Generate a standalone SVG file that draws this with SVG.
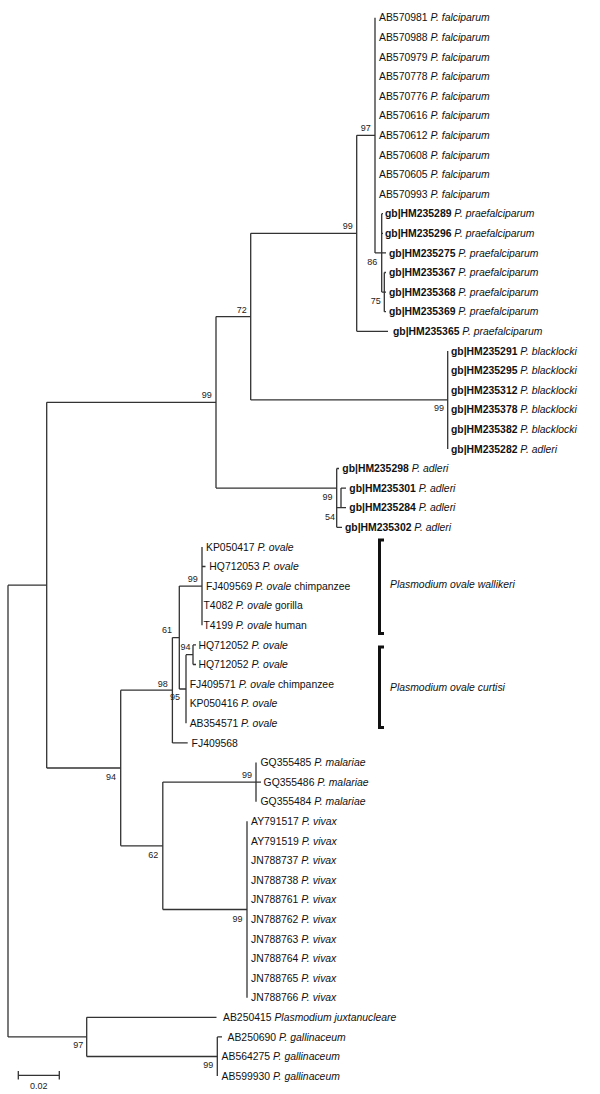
<svg xmlns="http://www.w3.org/2000/svg" width="600" height="1094" viewBox="0 0 600 1094">
<style>
text{font-family:"Liberation Sans",Arial,sans-serif;fill:#111}
.t{font-size:10.4px}
.g{font-weight:bold}
.i{font-style:italic;font-weight:normal}
.n{font-weight:normal;font-style:normal}
.b{font-size:9px;text-anchor:middle;fill:#222}
.cl{font-size:10.4px;font-style:italic}
.e{fill:none;stroke:#333;stroke-width:1.3}
.br{fill:none;stroke:#111;stroke-width:3}
</style>
<rect width="600" height="1094" fill="#fff"/>
<g id="connectors" class="e">
<path d="M8,585.2V1036.9 M8,585.2H46.7 M8,1036.9H86.7"/>
<path d="M46.7,402.35V768 M46.7,402.35H216 M46.7,768H120.7"/>
<path d="M216,316.6V488.1 M216,316.6H250.7 M216,488.1H336.7"/>
<path d="M250.7,233.3V399.9 M250.7,233.3H356.7 M250.7,399.9H447.7"/>
<path d="M356.7,135.3V331.3 M356.7,135.3H375 M356.7,331.3H388"/>
<path d="M375,17.7V252.9 M375,252.9H386"/>
<path d="M381.7,213.7V292.1 M381.7,213.7H383 M381.7,233.3H383 M381.7,292.1H384.3"/>
<path d="M384.3,272.5V311.7 M384.3,272.5H386 M384.3,292.1H386 M384.3,311.7H386"/>
<path d="M447.7,350.9V448.9"/>
<path d="M336.7,468.5V527.3 M336.7,468.5H339 M336.7,527.3H342 M341,488.1V507.7 M341,488.1H346 M336.7,507.7H346"/>
<path d="M120.7,690.2V845.8 M120.7,690.2H172.4 M120.7,845.8H162.8"/>
<path d="M172.4,637.55V742.9 M172.4,637.55H179.3 M172.4,742.9H187.7"/>
<path d="M179.3,586.1V689 M179.3,586.1H202 M179.3,689H186"/>
<path d="M202,546.9V625.3 M202,566.5H205.5"/>
<path d="M186,654.7V723.3 M186,654.7H193"/>
<path d="M193,644.9V664.5 M193,644.9H196 M193,664.5H196"/>
<path d="M162.8,782.1V909.5 M162.8,782.1H256 M162.8,909.5H247"/>
<path d="M256,762.5V801.7 M256,782.1H261"/>
<path d="M247,821.3V997.7"/>
<path d="M86.7,1017.3V1056.5 M86.7,1017.3H216.5 M86.7,1056.5H217.3"/>
<path d="M217.3,1036.9V1076.1 M217.3,1036.9H222"/>
</g>
<g id="bootstrap">
<text class="b" x="365.7" y="131.2">97</text>
<text class="b" x="347.7" y="229.2">99</text>
<text class="b" x="372.3" y="264.9">86</text>
<text class="b" x="375.7" y="304.2">75</text>
<text class="b" x="241.7" y="313.2">72</text>
<text class="b" x="439" y="411.2">99</text>
<text class="b" x="206.7" y="398.2">99</text>
<text class="b" x="327.5" y="500.2">99</text>
<text class="b" x="330" y="520.2">54</text>
<text class="b" x="192.7" y="582.2">99</text>
<text class="b" x="167" y="633.2">61</text>
<text class="b" x="185.5" y="650.2">94</text>
<text class="b" x="175" y="700.2">95</text>
<text class="b" x="162.8" y="686.5">98</text>
<text class="b" x="111" y="779.9">94</text>
<text class="b" x="153.3" y="857.5">62</text>
<text class="b" x="247" y="778.2">99</text>
<text class="b" x="237.5" y="922.2">99</text>
<text class="b" x="78.3" y="1048.2">97</text>
<text class="b" x="208.3" y="1068.2">99</text>
</g>
<g id="tips">
<text class="t" x="379" y="21.4">AB570981 <tspan class="i">P. falciparum</tspan></text>
<text class="t" x="379" y="41">AB570988 <tspan class="i">P. falciparum</tspan></text>
<text class="t" x="379" y="60.6">AB570979 <tspan class="i">P. falciparum</tspan></text>
<text class="t" x="379" y="80.2">AB570778 <tspan class="i">P. falciparum</tspan></text>
<text class="t" x="379" y="99.8">AB570776 <tspan class="i">P. falciparum</tspan></text>
<text class="t" x="379" y="119.4">AB570616 <tspan class="i">P. falciparum</tspan></text>
<text class="t" x="379" y="139">AB570612 <tspan class="i">P. falciparum</tspan></text>
<text class="t" x="379" y="158.6">AB570608 <tspan class="i">P. falciparum</tspan></text>
<text class="t" x="379" y="178.2">AB570605 <tspan class="i">P. falciparum</tspan></text>
<text class="t" x="379" y="197.8">AB570993 <tspan class="i">P. falciparum</tspan></text>
<text class="t g" x="385" y="217.4">gb|HM235289 <tspan class="i">P. praefalciparum</tspan></text>
<text class="t g" x="385" y="237">gb|HM235296 <tspan class="i">P. praefalciparum</tspan></text>
<text class="t g" x="389" y="256.6">gb|HM235275 <tspan class="i">P. praefalciparum</tspan></text>
<text class="t g" x="389" y="276.2">gb|HM235367 <tspan class="i">P. praefalciparum</tspan></text>
<text class="t g" x="389" y="295.8">gb|HM235368 <tspan class="i">P. praefalciparum</tspan></text>
<text class="t g" x="389" y="315.4">gb|HM235369 <tspan class="i">P. praefalciparum</tspan></text>
<text class="t g" x="393" y="335">gb|HM235365 <tspan class="i">P. praefalciparum</tspan></text>
<text class="t g" x="451" y="354.6">gb|HM235291 <tspan class="i">P. blacklocki</tspan></text>
<text class="t g" x="451" y="374.2">gb|HM235295 <tspan class="i">P. blacklocki</tspan></text>
<text class="t g" x="451" y="393.8">gb|HM235312 <tspan class="i">P. blacklocki</tspan></text>
<text class="t g" x="451" y="413.4">gb|HM235378 <tspan class="i">P. blacklocki</tspan></text>
<text class="t g" x="451" y="433">gb|HM235382 <tspan class="i">P. blacklocki</tspan></text>
<text class="t g" x="451" y="452.6">gb|HM235282 <tspan class="i">P. adleri</tspan></text>
<text class="t g" x="342.3" y="472.2">gb|HM235298 <tspan class="i">P. adleri</tspan></text>
<text class="t g" x="349.3" y="491.8">gb|HM235301 <tspan class="i">P. adleri</tspan></text>
<text class="t g" x="349.3" y="511.4">gb|HM235284 <tspan class="i">P. adleri</tspan></text>
<text class="t g" x="345" y="531">gb|HM235302 <tspan class="i">P. adleri</tspan></text>
<text class="t" x="206" y="550.6">KP050417 <tspan class="i">P. ovale</tspan></text>
<text class="t" x="209.3" y="570.2">HQ712053 <tspan class="i">P. ovale</tspan></text>
<text class="t" x="206" y="589.8">FJ409569 <tspan class="i">P. ovale</tspan> chimpanzee</text>
<text class="t" x="203.5" y="609.4">T4082 <tspan class="i">P. ovale</tspan> gorilla</text>
<text class="t" x="203.5" y="629">T4199 <tspan class="i">P. ovale</tspan> human</text>
<text class="t" x="198.4" y="648.6">HQ712052 <tspan class="i">P. ovale</tspan></text>
<text class="t" x="198.4" y="668.2">HQ712052 <tspan class="i">P. ovale</tspan></text>
<text class="t" x="189.7" y="687.8">FJ409571 <tspan class="i">P. ovale</tspan> chimpanzee</text>
<text class="t" x="189.7" y="707.4">KP050416 <tspan class="i">P. ovale</tspan></text>
<text class="t" x="189.7" y="727">AB354571 <tspan class="i">P. ovale</tspan></text>
<text class="t" x="191.6" y="746.6">FJ409568</text>
<text class="t" x="260.5" y="766.2">GQ355485 <tspan class="i">P. malariae</tspan></text>
<text class="t" x="263.6" y="785.8">GQ355486 <tspan class="i">P. malariae</tspan></text>
<text class="t" x="260.5" y="805.4">GQ355484 <tspan class="i">P. malariae</tspan></text>
<text class="t" x="251" y="825">AY791517 <tspan class="i">P. vivax</tspan></text>
<text class="t" x="251" y="844.6">AY791519 <tspan class="i">P. vivax</tspan></text>
<text class="t" x="251" y="864.2">JN788737 <tspan class="i">P. vivax</tspan></text>
<text class="t" x="251" y="883.8">JN788738 <tspan class="i">P. vivax</tspan></text>
<text class="t" x="251" y="903.4">JN788761 <tspan class="i">P. vivax</tspan></text>
<text class="t" x="251" y="923">JN788762 <tspan class="i">P. vivax</tspan></text>
<text class="t" x="251" y="942.6">JN788763 <tspan class="i">P. vivax</tspan></text>
<text class="t" x="251" y="962.2">JN788764 <tspan class="i">P. vivax</tspan></text>
<text class="t" x="251" y="981.8">JN788765 <tspan class="i">P. vivax</tspan></text>
<text class="t" x="251" y="1001.4">JN788766 <tspan class="i">P. vivax</tspan></text>
<text class="t" x="223" y="1021">AB250415 <tspan class="i">Plasmodium juxtanucleare</tspan></text>
<text class="t" x="227.5" y="1040.6">AB250690 <tspan class="i">P. gallinaceum</tspan></text>
<text class="t" x="221.6" y="1060.2">AB564275 <tspan class="i">P. gallinaceum</tspan></text>
<text class="t" x="221.6" y="1079.8">AB599930 <tspan class="i">P. gallinaceum</tspan></text>
</g>
<g id="clade-wallikeri">
<path class="br" d="M384,540H379.5V633.5H384"/>
<text class="cl" x="390" y="587.7">Plasmodium ovale wallikeri</text>
</g>
<g id="clade-curtisi">
<path class="br" d="M384,647H379.5V727.5H384"/>
<text class="cl" x="390" y="691">Plasmodium ovale curtisi</text>
</g>
<g id="scale-bar">
<path class="e" d="M18.3,1075.3H59.3 M18.3,1071V1079.6 M59.3,1071V1079.6"/>
<text class="b" x="38.8" y="1088.5">0.02</text>
</g>
</svg>
